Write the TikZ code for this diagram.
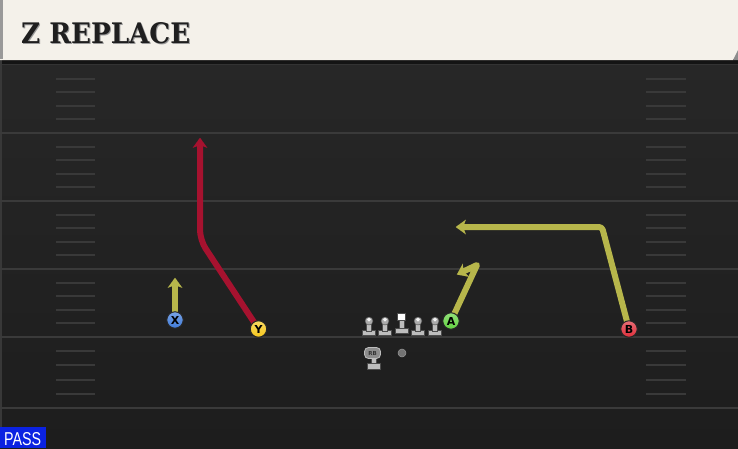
\documentclass[tikz,border=0pt]{standalone}
\usepackage{fontspec}
\usepackage{graphicx}
\usetikzlibrary{arrows.meta}
\newfontfamily\titlefont{DejaVu Serif}
\newfontfamily\lblfont{DejaVu Sans}
\newfontfamily\passfont{Liberation Sans}
\definecolor{titlebg}{HTML}{F4F1EA}
\definecolor{fieldtop}{HTML}{272727}
\definecolor{fieldbot}{HTML}{1D1D1D}
\definecolor{yardcol}{HTML}{3A3A3A}
\definecolor{hashcol}{HTML}{393939}
\definecolor{olivecol}{HTML}{B7B64B}
\definecolor{crimsoncol}{HTML}{A6122F}
\definecolor{xblue}{HTML}{3F7BD9}
\definecolor{yyellow}{HTML}{F6C81C}
\definecolor{agreen}{HTML}{62D240}
\definecolor{bred}{HTML}{DE2E3A}
\definecolor{passblue}{HTML}{0B22E2}
\definecolor{olgray}{HTML}{BDBDBD}
\definecolor{rbgray}{HTML}{8C8C8C}
\newcommand\drawroute[2]{\draw[routeback,#1] #2; \draw[routefront,#1] #2;}
\begin{document}
\begin{tikzpicture}[x=1pt,y=-1pt,
  yardline/.style={draw=yardcol,line width=2pt},
  hashmark/.style={draw=hashcol,line width=2pt},
  routeback/.style={draw=black!90,line width=6pt,line join=round,shorten >=-1.2pt,
     -{Stealth[length=10pt,width=14.5pt,inset=3pt,line width=0.01pt]}},
  routefront/.style={line width=4pt,line join=round,
     -{Stealth[length=8pt,width=11.5pt,inset=2.4pt,line width=0.01pt]}},
  player/.style={circle,minimum size=16.5pt,inner sep=0pt,draw=black!85,line width=1pt,
     font=\lblfont\bfseries\fontsize{11}{11}\selectfont,text=black},
  olbody/.style={fill=olgray,draw=black!70,line width=0.4pt}
]
\useasboundingbox (0,0) rectangle (738,448);
% field
\shade[top color=fieldtop,bottom color=fieldbot] (0,60) rectangle (738,448);
\fill[black!92] (0,59) rectangle (738,64);
\draw[draw=black!80!white,line width=1pt] (0,64.5) -- (738,64.5);
\draw[draw=black!78!white,line width=1.5pt] (1,60) -- (1,448);
% yard lines
\foreach \yy in {133,201,269,337,408} \draw[yardline] (0,\yy) -- (738,\yy);
% hash marks
\foreach \a/\b in {65/133,133/201,201/269,269/337,337/408}{
  \foreach \k in {1,2,3,4}{
    \pgfmathsetmacro\hy{\a+(\b-\a)*\k/5}
    \draw[hashmark] (56,\hy) -- (95,\hy);
    \draw[hashmark] (646,\hy) -- (686,\hy);
  }
}
% title bar
\fill[titlebg] (0,0) -- (738,0) -- (738,50) -- (733,60) -- (0,60) -- cycle;
\fill[black!40] (0,0) rectangle (3,59);
\fill[black!45] (733,60) -- (738,50) -- (738,60) -- cycle;
\node[anchor=base west,inner sep=0pt,text=black!40] (titleshadow) at (22,44) {\resizebox{169pt}{21pt}{\titlefont\bfseries Z REPLACE}};
\node[anchor=base west,inner sep=0pt,text=black!88] (title) at (21,43) {\resizebox{169pt}{21pt}{\titlefont\bfseries Z REPLACE}};
% player anchor points
\coordinate (Xc) at (175,320);
\coordinate (Yc) at (258.5,329);
\coordinate (Ac) at (451,321);
\coordinate (Bc) at (629,329);
\coordinate (XT) at (175,279);
\coordinate (YB) at (200,240);
\coordinate (YT) at (200,139);
\coordinate (AK) at (477,265);
\coordinate (AT) at (458,274);
\coordinate (BK) at (602,227);
\coordinate (BT) at (457,227);
% routes
\drawroute{draw=olivecol}{(Xc) -- (XT)}
\drawroute{draw=crimsoncol,rounded corners=10pt}{(Yc) -- (YB) -- (YT)}
\drawroute{draw=olivecol}{(Ac) -- (AK) -- (AT)}
\drawroute{draw=olivecol,rounded corners=3pt}{(Bc) -- (BK) -- (BT)}
% offensive line
\foreach \lx in {369,385,418,435}{
  \fill[olbody] (\lx-6.5,330.5) rectangle (\lx+6.5,335.5);
  \fill[olbody] (\lx-2.4,321) rectangle (\lx+2.4,331);
  \filldraw[fill=olgray!90!black,draw=black!70,line width=0.4pt] (\lx,321) circle (4);
  \fill[white!90!gray] (\lx,319.6) circle (1.9);
}
\fill[olbody] (395,328) rectangle (408.5,333);
\fill[olbody] (399.5,320) rectangle (404,328.5);
\filldraw[fill=white,draw=black!70,line width=0.4pt] (397.5,313.5) rectangle (405.5,320.5);
% RB
\fill[olbody] (367,363) rectangle (380.5,369);
\fill[olbody] (371.5,358) rectangle (376,363.5);
\node[draw=olgray,fill=rbgray,line width=0.8pt,rounded corners=4pt,minimum width=16pt,minimum height=11pt,inner sep=0pt,
  font=\lblfont\bfseries\fontsize{5.5}{5.5}\selectfont,text=black!80] (RB) at (372.5,353) {RB};
% ball
\node[circle,fill=black!55,draw=black!40,line width=0.5pt,minimum size=8pt,inner sep=0pt] (ball) at (402,353) {};
% skill players
\node[player,top color=xblue!70!white,bottom color=xblue] (X) at (Xc) {X};
\node[player,top color=yyellow!70!white,bottom color=yyellow] (Y) at (Yc) {Y};
\node[player,top color=agreen!70!white,bottom color=agreen] (A) at (Ac) {A};
\node[player,top color=bred!70!white,bottom color=bred] (B) at (Bc) {B};
% pass tag
\node[fill=passblue,anchor=south west,minimum width=45.5pt,minimum height=20.5pt,inner sep=0pt] (passbox) at (0,448) {};
\node[anchor=base west,inner sep=0pt,text=white] (pass) at (4,445.5) {\resizebox{37pt}{13pt}{\passfont PASS}};
\end{tikzpicture}
\end{document}
